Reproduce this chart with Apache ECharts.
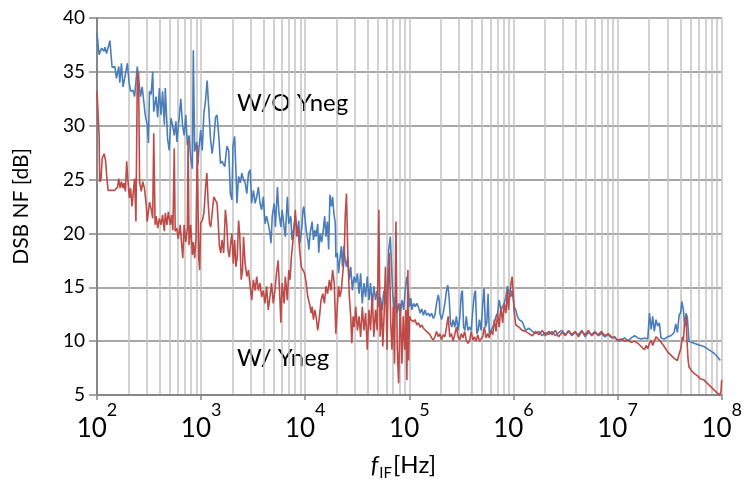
<!DOCTYPE html>
<html>
<head>
<meta charset="utf-8">
<script src="https://cdn.jsdelivr.net/npm/echarts@6/dist/echarts.min.js"></script>
<style>
html,body{margin:0;padding:0;background:#fff;}
#chart{width:745px;height:487px;}
</style>
</head>
<body>
<div id="chart"></div>
<script>
// x values are log10(f / Hz)
const blueLogF = [2.000,2.020,2.045,2.067,2.076,2.092,2.107,2.124,2.145,2.171,2.187,2.209,2.219,2.235,2.250,2.271,2.292,2.307,2.323,2.345,2.361,2.387,2.399,2.418,2.434,2.450,2.463,2.482,2.494,2.504,2.520,2.535,2.545,2.568,2.583,2.599,2.615,2.630,2.647,2.656,2.678,2.694,2.710,2.725,2.742,2.758,2.767,2.789,2.805,2.821,2.837,2.853,2.868,2.884,2.900,2.916,2.925,2.938,2.957,2.970,2.979,2.996,3.011,3.027,3.043,3.058,3.074,3.091,3.106,3.122,3.138,3.153,3.170,3.186,3.201,3.227,3.248,3.265,3.281,3.296,3.306,3.322,3.334,3.344,3.360,3.376,3.391,3.407,3.423,3.439,3.455,3.471,3.486,3.502,3.519,3.534,3.550,3.566,3.581,3.597,3.614,3.629,3.645,3.661,3.671,3.683,3.702,3.714,3.733,3.747,3.766,3.778,3.797,3.809,3.828,3.842,3.861,3.873,3.892,3.905,3.924,3.937,3.949,3.968,3.978,3.987,4.009,4.025,4.035,4.047,4.066,4.079,4.092,4.104,4.120,4.130,4.142,4.158,4.175,4.187,4.199,4.213,4.225,4.237,4.251,4.263,4.275,4.289,4.294,4.308,4.320,4.332,4.346,4.358,4.370,4.384,4.396,4.408,4.422,4.437,4.453,4.469,4.485,4.501,4.517,4.532,4.548,4.564,4.580,4.596,4.612,4.627,4.643,4.659,4.675,4.691,4.707,4.722,4.738,4.755,4.770,4.786,4.802,4.817,4.827,4.840,4.853,4.865,4.881,4.897,4.912,4.929,4.945,4.960,4.976,4.992,5.002,5.014,5.024,5.040,5.055,5.071,5.087,5.103,5.119,5.135,5.150,5.166,5.182,5.198,5.214,5.230,5.245,5.261,5.278,5.287,5.293,5.309,5.325,5.341,5.357,5.369,5.382,5.395,5.407,5.420,5.436,5.452,5.468,5.483,5.499,5.509,5.521,5.534,5.547,5.563,5.578,5.594,5.610,5.625,5.635,5.648,5.661,5.673,5.689,5.705,5.718,5.730,5.744,5.756,5.768,5.784,5.801,5.816,5.832,5.848,5.863,5.879,5.896,5.911,5.927,5.943,5.958,5.974,5.984,5.996,6.006,6.022,6.038,6.053,6.085,6.117,6.149,6.181,6.212,6.244,6.276,6.307,6.339,6.371,6.402,6.434,6.466,6.498,6.529,6.561,6.593,6.624,6.656,6.688,6.719,6.751,6.783,6.814,6.846,6.878,6.909,6.942,6.973,7.004,7.037,7.068,7.100,7.131,7.163,7.195,7.227,7.258,7.290,7.306,7.322,7.337,7.353,7.369,7.385,7.401,7.417,7.448,7.480,7.512,7.543,7.559,7.575,7.591,7.607,7.617,7.632,7.645,7.658,7.670,7.686,7.702,7.734,7.765,7.797,7.829,7.861,7.892,7.924,7.955,7.987,8.000];
const blueNF = [38.6,36.6,37.2,36.9,37.3,36.7,36.6,37.9,35.4,35.5,34.4,35.5,34.0,35.8,33.6,34.7,35.8,34.1,33.2,33.3,32.7,35.5,34.4,32.7,33.6,32.2,31.0,30.1,28.4,33.2,32.9,35.0,31.3,32.7,30.8,33.5,31.0,33.2,30.1,33.5,28.8,27.7,30.7,30.1,29.1,30.4,28.5,30.7,32.5,30.1,29.1,31.0,28.2,29.1,27.0,26.0,37.0,27.6,28.5,26.4,27.9,29.6,27.7,31.2,32.4,34.2,31.5,28.7,27.4,28.7,30.8,31.0,29.0,26.5,26.7,26.2,28.1,27.7,23.7,23.1,28.1,29.0,25.9,22.8,25.3,24.7,25.6,25.0,24.7,23.7,25.6,25.9,22.8,24.0,22.8,23.4,24.3,22.8,22.2,23.4,20.9,21.6,20.9,20.0,19.1,21.6,22.8,20.6,24.3,21.9,20.6,22.2,20.6,19.7,23.4,20.9,21.6,19.4,20.6,21.6,20.0,21.2,19.1,20.6,22.2,22.5,20.3,19.4,18.5,20.0,21.1,19.4,20.3,19.7,20.9,18.2,20.0,19.2,20.5,21.6,19.7,21.1,18.5,23.6,22.5,23.4,21.9,20.9,17.8,18.2,16.3,17.5,18.8,16.9,18.8,17.5,16.9,17.8,15.7,16.9,14.7,16.0,15.4,16.3,14.4,16.3,13.5,15.4,14.1,16.0,13.8,15.4,13.2,15.1,13.8,14.7,13.2,14.1,12.9,14.7,13.5,14.4,18.5,19.7,17.5,14.4,12.9,14.1,12.6,13.5,12.3,13.8,12.9,14.7,16.0,14.4,13.2,14.0,12.9,13.5,13.2,13.5,13.2,12.6,13.0,12.4,12.9,12.4,12.6,12.3,12.6,12.1,12.4,13.5,14.3,13.8,12.6,12.0,12.6,13.5,14.7,15.2,14.1,11.7,11.3,12.0,11.3,12.3,11.0,12.0,14.4,14.7,11.3,11.0,12.3,11.0,11.3,11.0,12.9,14.4,14.7,10.7,11.0,12.0,11.0,13.5,14.9,11.3,11.7,14.4,10.7,11.0,11.3,11.7,12.3,12.6,13.8,12.9,13.2,13.5,14.1,15.1,14.4,14.1,14.7,14.1,13.2,12.9,12.3,12.0,11.8,11.0,11.2,10.9,10.7,10.9,10.5,10.8,10.6,10.9,10.5,10.8,11.0,10.6,10.9,10.5,10.8,10.6,11.0,10.4,10.8,10.6,10.9,10.5,10.7,10.4,10.6,10.3,10.4,10.0,10.1,10.3,10.0,10.3,10.5,10.3,10.2,10.3,10.2,12.6,11.1,12.3,10.9,12.0,11.4,11.7,10.3,10.2,10.4,10.5,10.8,11.6,10.8,12.4,12.7,13.7,12.9,11.3,12.6,12.2,10.0,10.1,9.8,9.7,9.6,9.5,9.3,9.1,8.9,8.6,8.2];

const redLogF = [2.000,2.010,2.020,2.026,2.038,2.050,2.069,2.083,2.095,2.107,2.140,2.171,2.197,2.209,2.222,2.235,2.250,2.260,2.273,2.285,2.298,2.311,2.323,2.336,2.349,2.361,2.374,2.387,2.399,2.409,2.425,2.440,2.456,2.473,2.482,2.494,2.504,2.520,2.535,2.545,2.558,2.568,2.583,2.599,2.615,2.630,2.647,2.656,2.672,2.685,2.704,2.716,2.729,2.742,2.751,2.767,2.780,2.799,2.811,2.824,2.837,2.853,2.868,2.875,2.884,2.900,2.916,2.925,2.938,2.951,2.963,2.977,2.986,2.996,3.011,3.027,3.043,3.055,3.068,3.081,3.093,3.106,3.122,3.138,3.153,3.163,3.176,3.189,3.201,3.217,3.233,3.246,3.258,3.271,3.284,3.296,3.309,3.322,3.334,3.347,3.360,3.372,3.385,3.398,3.407,3.423,3.439,3.455,3.471,3.486,3.502,3.519,3.534,3.550,3.566,3.581,3.597,3.614,3.629,3.645,3.661,3.676,3.693,3.709,3.724,3.740,3.756,3.766,3.778,3.797,3.809,3.828,3.842,3.854,3.867,3.880,3.892,3.905,3.918,3.930,3.946,3.962,3.978,3.994,4.009,4.025,4.041,4.057,4.066,4.079,4.092,4.104,4.120,4.137,4.152,4.168,4.184,4.199,4.215,4.232,4.247,4.263,4.279,4.294,4.308,4.320,4.332,4.346,4.358,4.374,4.384,4.396,4.408,4.422,4.437,4.447,4.460,4.472,4.485,4.501,4.517,4.532,4.548,4.564,4.580,4.596,4.612,4.627,4.643,4.659,4.675,4.691,4.707,4.719,4.732,4.745,4.757,4.770,4.786,4.795,4.808,4.821,4.833,4.846,4.858,4.871,4.884,4.897,4.912,4.929,4.941,4.955,4.967,4.976,4.986,4.992,5.002,5.014,5.024,5.040,5.055,5.071,5.087,5.103,5.119,5.135,5.150,5.166,5.182,5.198,5.214,5.230,5.245,5.261,5.278,5.293,5.309,5.325,5.341,5.357,5.373,5.388,5.404,5.420,5.436,5.452,5.468,5.483,5.499,5.515,5.531,5.547,5.563,5.578,5.594,5.610,5.625,5.641,5.657,5.673,5.689,5.705,5.720,5.737,5.753,5.768,5.784,5.801,5.816,5.832,5.848,5.863,5.879,5.896,5.911,5.927,5.943,5.952,5.965,5.977,5.987,5.996,6.006,6.015,6.022,6.053,6.085,6.117,6.149,6.181,6.212,6.244,6.276,6.307,6.339,6.371,6.402,6.434,6.466,6.498,6.529,6.561,6.593,6.624,6.656,6.688,6.719,6.751,6.783,6.814,6.846,6.878,6.909,6.942,6.973,7.004,7.037,7.068,7.100,7.131,7.163,7.195,7.227,7.258,7.274,7.290,7.306,7.322,7.337,7.353,7.369,7.385,7.401,7.417,7.448,7.480,7.512,7.543,7.575,7.591,7.607,7.623,7.632,7.642,7.658,7.667,7.677,7.686,7.708,7.734,7.765,7.797,7.829,7.861,7.892,7.924,7.955,7.981,7.993,8.000];
const redNF = [33.2,33.3,29.1,24.8,25.0,27.0,27.4,26.7,25.1,24.0,24.0,24.0,24.3,25.1,24.2,24.8,24.2,24.7,23.9,26.7,24.8,23.3,24.2,22.5,23.9,25.1,21.1,34.4,35.0,24.8,23.9,24.8,24.2,22.6,21.1,22.0,22.9,22.3,21.4,29.3,20.8,21.6,20.5,21.4,20.8,21.7,20.2,21.9,20.8,22.0,20.8,21.7,20.3,27.9,20.2,20.5,19.5,20.8,19.2,17.7,20.8,19.2,20.5,28.7,18.9,20.8,18.0,19.2,17.7,19.6,28.2,17.7,16.6,21.0,21.2,21.9,24.3,25.6,22.8,20.9,20.6,21.9,23.4,23.3,22.8,21.2,18.8,18.2,19.4,18.2,22.2,20.9,18.5,17.8,19.1,20.0,17.2,19.4,16.9,17.8,21.2,19.7,15.7,16.6,19.7,17.2,16.0,16.6,15.1,13.8,15.7,14.7,16.0,14.7,15.4,14.1,14.7,13.5,15.1,12.9,14.1,15.4,13.5,14.7,16.3,17.5,14.1,11.7,15.4,13.5,16.0,13.8,16.6,15.7,17.8,17.8,20.3,22.2,19.7,20.6,18.5,16.9,16.9,16.3,15.4,14.1,13.5,12.6,13.2,12.0,12.9,12.3,11.0,12.3,13.8,14.4,13.5,15.1,14.4,15.7,14.7,16.6,15.4,10.7,13.2,15.1,14.1,14.7,16.0,17.8,21.6,23.7,18.5,14.4,12.3,9.8,12.3,11.3,13.2,11.0,12.3,10.4,13.2,11.0,12.6,9.2,12.9,11.0,14.4,10.4,12.9,11.0,22.2,10.4,13.5,9.5,12.3,16.9,9.2,14.7,18.2,11.7,9.2,13.2,7.9,21.1,9.2,6.1,13.5,7.9,12.3,9.2,12.9,6.4,16.6,8.2,12.3,12.0,12.1,11.8,12.0,11.5,11.7,11.3,11.5,11.2,11.2,10.9,11.0,10.6,10.3,10.1,10.4,10.9,10.4,10.7,10.1,10.6,10.4,11.3,12.3,10.4,10.7,10.0,10.6,11.3,10.4,10.1,10.7,10.3,10.9,10.1,9.8,10.0,10.9,10.1,10.4,10.0,10.6,10.0,10.1,10.4,11.3,10.3,10.7,10.3,11.0,10.6,12.0,10.9,12.6,11.3,13.2,11.7,13.5,12.6,14.7,12.9,14.4,15.4,16.0,14.7,12.9,12.1,11.5,11.3,11.0,10.9,10.7,10.5,10.9,10.6,11.0,10.5,10.9,10.6,11.0,10.4,10.8,10.5,11.0,10.6,10.9,10.4,10.9,10.6,11.0,10.5,10.8,10.6,10.9,10.5,10.7,10.4,10.3,10.1,10.2,10.0,10.1,9.9,10.0,9.8,9.5,9.2,9.6,9.3,9.8,10.1,9.6,10.0,10.4,10.4,10.1,9.9,9.5,9.0,8.7,8.4,8.2,8.8,9.3,10.4,10.1,11.5,12.3,10.0,8.3,7.6,7.3,7.0,6.8,6.5,6.4,6.1,5.8,5.5,5.2,5.0,5.3,6.4];

const yTicks = [5, 10, 15, 20, 25, 30, 35, 40];
const xExponents = [2, 3, 4, 5, 6, 7, 8];
const seriesNames = ['W/O Yneg', 'W/ Yneg'];

const FONT = 'Lato, "Open Sans", sans-serif';
const NARROW = '"Liberation Sans Narrow", Lato, sans-serif';
const toPairs = (lf, v) => lf.map((e, i) => [Math.pow(10, e), v[i]]);

const chart = echarts.init(document.getElementById('chart'), null, {renderer: 'canvas'});
chart.setOption({
  animation: false,
  backgroundColor: '#ffffff',
  grid: {left: 97, right: 17, top: 18, bottom: 92, containLabel: false},
  xAxis: {
    type: 'log',
    logBase: 10,
    min: Math.pow(10, xExponents[0]),
    max: Math.pow(10, xExponents[xExponents.length - 1]),
    interval: 1,
    name: '{i|f}{sub|IF}{n|[Hz]}',
    nameLocation: 'middle',
    nameGap: 58,
    nameTextStyle: {
      padding: [0, 12, 0, 0],
      rich: {
        i: {fontFamily: FONT, fontStyle: 'italic', fontSize: 24, color: '#000', verticalAlign: 'bottom'},
        sub: {fontFamily: FONT, fontSize: 15, color: '#000', verticalAlign: 'bottom', padding: [0, 1, -4, 1]},
        n: {fontFamily: FONT, fontSize: 24, color: '#000', verticalAlign: 'bottom'}
      }
    },
    axisLine: {show: true, lineStyle: {color: '#878787', width: 2}},
    axisTick: {show: true, length: 5, lineStyle: {color: '#878787', width: 1.5}},
    minorTick: {show: false, splitNumber: 9},
    splitLine: {show: true, lineStyle: {color: '#c4c4c4', width: 1.5}},
    minorSplitLine: {show: true, lineStyle: {color: '#c4c4c4', width: 1.5}},
    axisLabel: {
      margin: 6,
      showMinLabel: true,
      showMaxLabel: true,
      formatter: function (v) {
        const e = Math.round(Math.log10(v));
        return '{b|10}{s|' + e + '}';
      },
      rich: {
        b: {fontFamily: NARROW, fontSize: 26, color: '#000', padding: [15, 0, 0, 0], verticalAlign: 'bottom'},
        s: {fontFamily: NARROW, fontSize: 18, color: '#000', verticalAlign: 'top'}
      }
    }
  },
  yAxis: {
    type: 'value',
    min: yTicks[0],
    max: yTicks[yTicks.length - 1],
    interval: 5,
    name: 'DSB NF [dB]',
    nameLocation: 'middle',
    nameGap: 65,
    nameRotate: 90,
    nameTextStyle: {fontFamily: FONT, fontSize: 21, color: '#000'},
    axisLine: {show: true, lineStyle: {color: '#878787', width: 2}},
    axisTick: {show: true, inside: false, length: 8, lineStyle: {color: '#878787', width: 1.5}},
    splitLine: {show: true, lineStyle: {color: '#8a8a8a', width: 1.5}},
    axisLabel: {fontFamily: FONT, fontSize: 19, color: '#000', margin: 12}
  },
  graphic: [
    {type: 'text', left: 237, top: 91, style: {text: seriesNames[0], font: '24px ' + FONT, fill: '#000'}},
    {type: 'text', left: 237, top: 346, style: {text: seriesNames[1], font: '24px ' + FONT, fill: '#000'}}
  ],
  series: [
    {
      name: seriesNames[0],
      type: 'line',
      showSymbol: false,
      symbol: 'none',
      data: toPairs(blueLogF, blueNF),
      lineStyle: {color: '#4a7ebb', width: 1.6},
      itemStyle: {color: '#4a7ebb'},
      z: 2
    },
    {
      name: seriesNames[1],
      type: 'line',
      showSymbol: false,
      symbol: 'none',
      data: toPairs(redLogF, redNF),
      lineStyle: {color: '#be4b48', width: 1.6},
      itemStyle: {color: '#be4b48'},
      z: 3
    }
  ]
});
</script>
</body>
</html>
